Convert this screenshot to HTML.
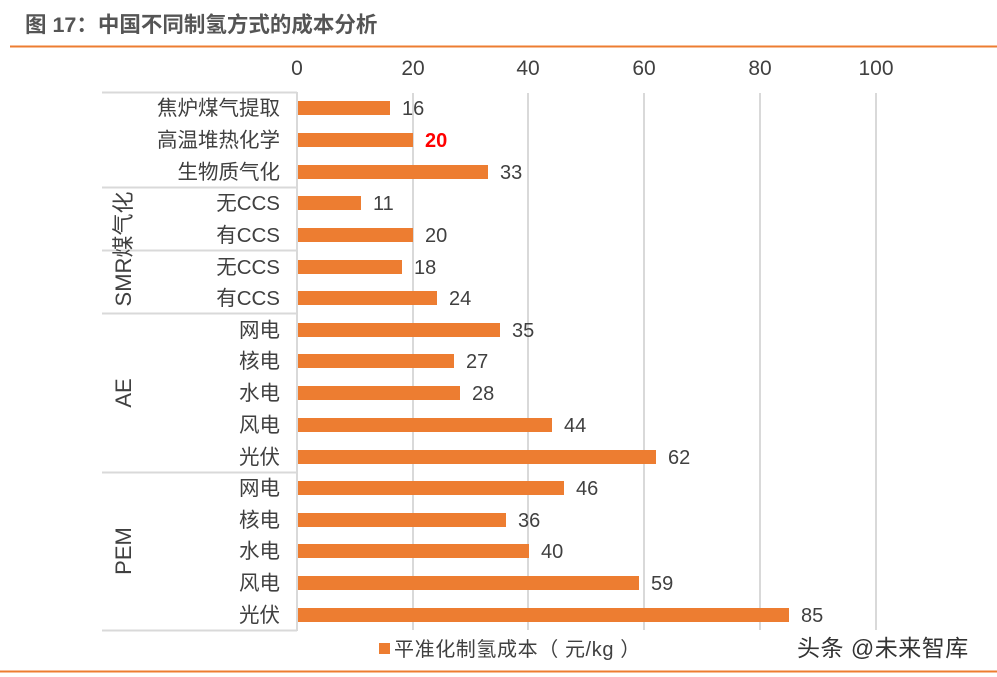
<!DOCTYPE html>
<html><head><meta charset="utf-8"><style>
body{margin:0;background:#fff;width:997px;height:677px;overflow:hidden;position:relative;font-family:"Liberation Sans","Noto Sans CJK SC",sans-serif}
svg{position:absolute;left:0;top:0}
</style></head><body>
<svg width="997" height="677" xmlns="http://www.w3.org/2000/svg" font-family="Liberation Sans, Noto Sans CJK SC, sans-serif">
<text x="25" y="32" font-size="21.5" font-weight="bold" fill="#555">图 17：中国不同制氢方式的成本分析</text>
<line x1="10" y1="46.5" x2="997" y2="46.5" stroke="#ED7D31" stroke-width="2"/>
<line x1="0" y1="671.5" x2="997" y2="671.5" stroke="#ED7D31" stroke-width="2"/>
<g stroke="#d9d9d9" stroke-width="2">
<line x1="413" y1="93" x2="413" y2="630"/><line x1="528" y1="93" x2="528" y2="630"/>
<line x1="644" y1="93" x2="644" y2="630"/><line x1="760" y1="93" x2="760" y2="630"/>
<line x1="876" y1="93" x2="876" y2="630"/>
<line x1="297" y1="92" x2="297" y2="631"/>
<line x1="102" y1="92.5" x2="297" y2="92.5"/><line x1="102" y1="187.5" x2="297" y2="187.5"/>
<line x1="102" y1="250.5" x2="297" y2="250.5"/><line x1="102" y1="313.5" x2="297" y2="313.5"/>
<line x1="102" y1="472.5" x2="297" y2="472.5"/><line x1="102" y1="630.5" x2="297" y2="630.5"/>
</g>
<g font-size="21" fill="#404040" text-anchor="middle">
<text x="297" y="75">0</text><text x="413" y="75">20</text><text x="528" y="75">40</text><text x="644" y="75">60</text><text x="760" y="75">80</text><text x="876" y="75">100</text>
</g>
<g fill="#ED7D31">
<rect x="298" y="101" width="92" height="14"/><rect x="298" y="133" width="115" height="14"/><rect x="298" y="165" width="190" height="14"/>
<rect x="298" y="196" width="63" height="14"/><rect x="298" y="228" width="115" height="14"/><rect x="298" y="260" width="104" height="14"/>
<rect x="298" y="291" width="139" height="14"/><rect x="298" y="323" width="202" height="14"/><rect x="298" y="354" width="156" height="14"/>
<rect x="298" y="386" width="162" height="14"/><rect x="298" y="418" width="254" height="14"/><rect x="298" y="450" width="358" height="14"/>
<rect x="298" y="481" width="266" height="14"/><rect x="298" y="513" width="208" height="14"/><rect x="298" y="544" width="231" height="14"/>
<rect x="298" y="576" width="341" height="14"/><rect x="298" y="608" width="491" height="14"/>
<rect x="379" y="643" width="11" height="11"/>
</g>
<g font-size="20" fill="#404040">
<text x="402" y="115">16</text><text x="425" y="147" fill="#FF0000" font-weight="bold">20</text><text x="500" y="179">33</text>
<text x="373" y="210">11</text><text x="425" y="242">20</text><text x="414" y="274">18</text>
<text x="449" y="305">24</text><text x="512" y="337">35</text><text x="466" y="368">27</text>
<text x="472" y="400">28</text><text x="564" y="432">44</text><text x="668" y="464">62</text>
<text x="576" y="495">46</text><text x="518" y="527">36</text><text x="541" y="558">40</text>
<text x="651" y="590">59</text><text x="801" y="622">85</text>
</g>
<g font-size="20.5" fill="#404040" text-anchor="end">
<text x="280" y="115">焦炉煤气提取</text><text x="280" y="147">高温堆热化学</text><text x="280" y="179">生物质气化</text>
<text x="280" y="210">无CCS</text><text x="280" y="242">有CCS</text><text x="280" y="274">无CCS</text>
<text x="280" y="305">有CCS</text><text x="280" y="337">网电</text><text x="280" y="368">核电</text>
<text x="280" y="400">水电</text><text x="280" y="432">风电</text><text x="280" y="464">光伏</text>
<text x="280" y="495">网电</text><text x="280" y="527">核电</text><text x="280" y="558">水电</text>
<text x="280" y="590">风电</text><text x="280" y="622">光伏</text>
</g>
<g font-size="22" fill="#404040" text-anchor="middle">
<text transform="translate(131,249) rotate(-90)">SMR煤气化</text>
<text transform="translate(131,393) rotate(-90)">AE</text>
<text transform="translate(131,551) rotate(-90)">PEM</text>
</g>
<text x="394" y="656" font-size="20" fill="#404040" letter-spacing="0.6">平准化制氢成本（ 元/kg ）</text>
<text x="797" y="656" font-size="23" fill="#333" letter-spacing="0.5">头条 @未来智库</text>
</svg>
</body></html>
